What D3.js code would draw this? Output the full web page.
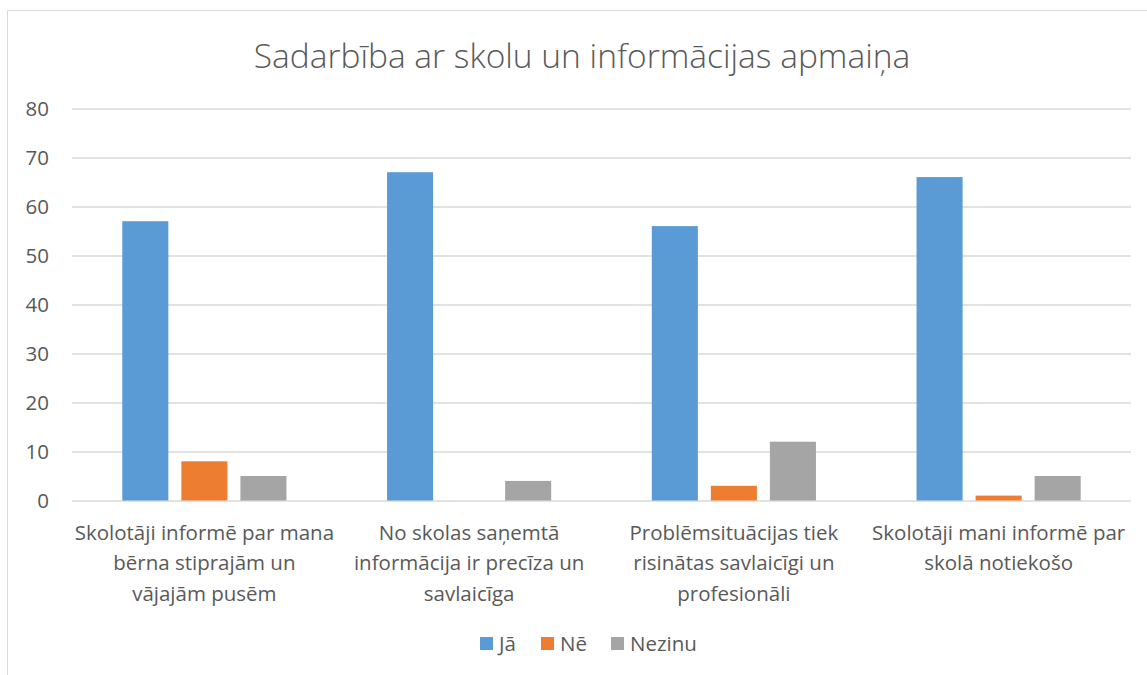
<!DOCTYPE html>
<html>
<head>
<meta charset="utf-8">
<script src="https://cdn.jsdelivr.net/npm/d3@7"></script>
<style>
  html, body { margin: 0; padding: 0; background: #fff; }
  svg { display: block; }
</style>
</head>
<body>
<div id="chart"></div>
<script>
var categories = [
    ["Skolotāji informē par mana", "bērna stiprajām un", "vājajām pusēm"],
    ["No skolas saņemtā", "informācija ir precīza un", "savlaicīga"],
    ["Problēmsituācijas tiek", "risinātas savlaicīgi un", "profesionāli"],
    ["Skolotāji mani informē par", "skolā notiekošo"]
]
var seriesNames = ["Jā", "Nē", "Nezinu"]
var jaValues = [57, 67, 56, 66]
var neValues = [8, 0, 3, 1]
var nezinuValues = [5, 4, 12, 5]
var yTicks = [0, 10, 20, 30, 40, 50, 60, 70, 80]
var colors = ["#5B9BD5", "#ED7D31", "#A5A5A5"]

var fontFam = "'Open Sans', 'Liberation Sans', sans-serif"
var textColor = "#595959"

var outerWidth = 1147, outerHeight = 675
var margins = {top: 108.5, right: 16, bottom: 174.5, left: 72}
var innerWidth = outerWidth - margins.left - margins.right
var innerHeight = outerHeight - margins.top - margins.bottom

var svg = d3.select("#chart").append("svg")
    .attr("width", outerWidth)
    .attr("height", outerHeight)

// chart frame (only left and top edges are visible)
svg.append("line")
    .attr("x1", 7.5).attr("x2", 7.5).attr("y1", 10.5).attr("y2", outerHeight)
    .attr("stroke", "#d9d9d9")
svg.append("line")
    .attr("x1", 7.5).attr("x2", outerWidth).attr("y1", 10.5).attr("y2", 10.5)
    .attr("stroke", "#d9d9d9")

svg.append("text")
    .attr("x", 582)
    .attr("y", 68)
    .attr("text-anchor", "middle")
    .attr("font-family", fontFam)
    .attr("font-size", 33.5)
    .attr("font-weight", 300)
    .attr("fill", textColor)
    .text("Sadarbība ar skolu un informācijas apmaiņa")

var plot = svg.append("g")
    .attr("transform", "translate(" + margins.left + "," + margins.top + ")")

var xScale = d3.scaleBand().domain(d3.range(categories.length)).range([0, innerWidth]).paddingInner(0).paddingOuter(0)
var yScale = d3.scaleLinear().domain([0, 80]).range([innerHeight, 0])
var inner = d3.scaleBand().domain(d3.range(seriesNames.length))
    .range([xScale.bandwidth() * 0.19, xScale.bandwidth() * 0.81]).paddingInner(0.22)

// gridlines
plot.selectAll(".grid")
    .data(yTicks)
    .enter()
    .append("line")
    .attr("x1", 0).attr("x2", innerWidth)
    .attr("y1", function(d) { return Math.round(yScale(d)) + 0.5 })
    .attr("y2", function(d) { return Math.round(yScale(d)) + 0.5 })
    .attr("stroke", "#d9d9d9")
    .attr("stroke-width", 1.3)

var yAxis = plot.append("g")
    .call(d3.axisLeft(yScale).tickValues(yTicks).tickSize(0).tickPadding(23))
yAxis.attr("font-family", fontFam).attr("font-size", 20.5)
yAxis.select(".domain").remove()
yAxis.selectAll("text")
    .attr("fill", textColor)

var allValues = [jaValues, neValues, nezinuValues]
allValues.forEach(function(vals, s) {
    plot.selectAll(".bar" + s)
        .data(vals)
        .enter()
        .append("rect")
        .attr("x", function(d, i) { return xScale(i) + inner(s) })
        .attr("width", inner.bandwidth())
        .attr("y", function(d) { return yScale(d) })
        .attr("height", function(d) { return innerHeight - yScale(d) })
        .attr("fill", colors[s])
})

// category labels
var catLabels = plot.selectAll(".cat")
    .data(categories)
    .enter()
    .append("text")
    .attr("text-anchor", "middle")
    .attr("font-family", fontFam)
    .attr("font-size", 20.5)
    .attr("fill", textColor)
    .attr("transform", function(d, i) { return "translate(" + (xScale(i) + xScale.bandwidth() / 2) + "," + (innerHeight + 39) + ")" })
catLabels.selectAll("tspan")
    .data(function(d) { return d })
    .enter()
    .append("tspan")
    .attr("x", 0)
    .attr("y", function(d, j) { return j * 30.5 })
    .text(function(d) { return d })

// legend
var legendX = [480, 541, 611]
var legend = svg.selectAll(".legend")
    .data(seriesNames)
    .enter()
    .append("g")
    .attr("transform", function(d, i) { return "translate(" + legendX[i] + ",637)" })
legend.append("rect")
    .attr("width", 13).attr("height", 13)
    .attr("fill", function(d, i) { return colors[i] })
legend.append("text")
    .attr("x", 19)
    .attr("y", 14)
    .attr("font-family", fontFam)
    .attr("font-size", 20.5)
    .attr("fill", textColor)
    .text(function(d) { return d })
</script>
</body>
</html>
